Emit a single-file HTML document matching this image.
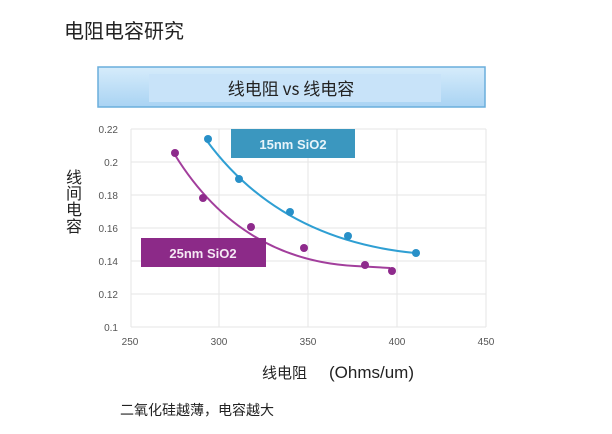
<!DOCTYPE html>
<html><head><meta charset="utf-8"><style>
body{margin:0;background:#fff;width:612px;height:434px;overflow:hidden;font-family:"Liberation Sans","Noto Sans CJK SC",sans-serif;}
</style></head><body>
<svg width="612" height="434" xmlns="http://www.w3.org/2000/svg" style="position:absolute;left:0;top:0">
<defs><linearGradient id="g" x1="0" y1="0" x2="0" y2="1"><stop offset="0" stop-color="#d6ecfb"/><stop offset="1" stop-color="#a9d3f3"/></linearGradient></defs>
<text x="64" y="38" font-size="20" fill="#222" font-family="Noto Sans CJK SC,sans-serif">电阻电容研究</text>
<rect x="98" y="67" width="387" height="40" fill="url(#g)" stroke="#6aaedc" stroke-width="1.5"/>
<rect x="149" y="74" width="292" height="28" fill="#c8e3f9"/>
<text x="291" y="95" font-size="17" fill="#222" text-anchor="middle" font-family="Noto Sans CJK SC,sans-serif">线电阻 vs 线电容</text>
<g stroke="#e6e6e6" stroke-width="1">
<line x1="131" y1="129" x2="486" y2="129"/><line x1="131" y1="162" x2="486" y2="162"/><line x1="131" y1="195" x2="486" y2="195"/><line x1="131" y1="228" x2="486" y2="228"/><line x1="131" y1="261" x2="486" y2="261"/><line x1="131" y1="294" x2="486" y2="294"/><line x1="131" y1="327" x2="486" y2="327"/>
<line x1="131" y1="129" x2="131" y2="327"/><line x1="219" y1="129" x2="219" y2="327"/><line x1="308" y1="129" x2="308" y2="327"/><line x1="397" y1="129" x2="397" y2="327"/><line x1="486" y1="129" x2="486" y2="327"/>
</g>
<g font-size="10" fill="#555" text-anchor="end">
<text x="118" y="133">0.22</text><text x="118" y="166">0.2</text><text x="118" y="199">0.18</text><text x="118" y="232">0.16</text><text x="118" y="265">0.14</text><text x="118" y="298">0.12</text><text x="118" y="331">0.1</text>
</g>
<g font-size="10" fill="#555" text-anchor="middle">
<text x="130" y="345">250</text><text x="219" y="345">300</text><text x="308" y="345">350</text><text x="397" y="345">400</text><text x="486" y="345">450</text>
</g>
<g font-size="16" fill="#222" font-family="Noto Sans CJK SC,sans-serif" text-anchor="middle">
<text x="74" y="183">线</text><text x="74" y="199">间</text><text x="74" y="215">电</text><text x="74" y="232">容</text>
</g>
<path d="M207,141 Q280,240 415,253" fill="none" stroke="#2f9fd3" stroke-width="2"/>
<path d="M175,155 Q240,260 355,266 L390,268" fill="none" stroke="#a23e9c" stroke-width="2"/>
<g fill="#2890c8"><circle cx="208" cy="139" r="4"/><circle cx="239" cy="179" r="4"/><circle cx="290" cy="212" r="4"/><circle cx="348" cy="236" r="4"/><circle cx="416" cy="253" r="4"/></g>
<g fill="#8e2a8c"><circle cx="175" cy="153" r="4"/><circle cx="203" cy="198" r="4"/><circle cx="251" cy="227" r="4"/><circle cx="304" cy="248" r="4"/><circle cx="365" cy="265" r="4"/><circle cx="392" cy="271" r="4"/></g>
<rect x="231" y="129" width="124" height="29" fill="#3b97bf"/>
<text x="293" y="149" font-size="13" font-weight="bold" fill="#e8f4fa" text-anchor="middle">15nm SiO2</text>
<rect x="141" y="238" width="125" height="29" fill="#8c2a88"/>
<text x="203" y="258" font-size="13" font-weight="bold" fill="#f5e8f4" text-anchor="middle">25nm SiO2</text>
<text x="262" y="378" font-size="15" fill="#222" font-family="Noto Sans CJK SC,sans-serif">线电阻</text>
<text x="329" y="378" font-size="17" fill="#222">(Ohms/um)</text>
<text x="120" y="415" font-size="14" fill="#222" font-family="Noto Sans CJK SC,sans-serif">二氧化硅越薄，电容越大</text>
</svg>
</body></html>
